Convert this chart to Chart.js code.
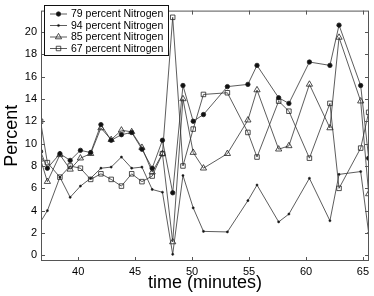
<!DOCTYPE html>
<html>
<head>
<meta charset="utf-8">
<script src="https://cdn.jsdelivr.net/npm/chart.js@4.4.1/dist/chart.umd.min.js"></script>
<style>
  html, body { margin: 0; padding: 0; background: #fff; }
  #wrap { width: 374px; height: 296px; position: relative; }
</style>
</head>
<body>
<div id="wrap"><canvas id="c" width="374" height="296"></canvas></div>
<script>
const times = [36.7, 37.3, 38.4, 39.3, 40.2, 41.1, 42.0, 42.9, 43.8, 44.7, 45.6, 46.5, 47.4, 48.3, 49.2, 50.1, 51.0, 53.1, 54.9, 55.7, 57.6, 58.5, 60.3, 62.1, 62.9, 64.8, 65.5];
const n79 = [9.3, 7.8, 9.1, 8.5, 9.4, 9.2, 11.7, 10.3, 10.8, 11.0, 9.5, 7.8, 10.3, 5.6, 15.2, 12.0, 12.6, 15.1, 15.3, 17.0, 14.1, 13.6, 17.3, 17.0, 20.6, 15.2, 8.7];
const n94 = [3.0, 4.0, 7.0, 5.2, 6.2, 6.9, 7.8, 7.9, 8.8, 7.8, 7.9, 5.9, 5.65, 0.1, 7.15, 4.25, 2.15, 2.1, 4.9, 6.3, 3.0, 3.7, 6.9, 3.1, 7.25, 7.5, 2.0];
const n85 = [8.6, 6.6, 9.0, 7.7, 8.7, 9.1, 11.4, 10.35, 11.2, 11.05, 9.65, 7.45, 9.1, 1.2, 14.0, 9.2, 7.8, 9.1, 12.1, 14.8, 9.5, 9.8, 15.3, 11.4, 19.5, 13.8, 5.5];
const n67 = [12.0, 8.3, 7.0, 8.0, 7.8, 6.8, 7.3, 6.8, 6.2, 7.3, 6.6, 7.1, 9.1, 21.3, 8.0, 11.3, 14.4, 14.55, 11.0, 8.8, 13.8, 12.9, 8.7, 13.6, 6.0, 9.6, 12.8];
const seriesLabels = ['79 percent Nitrogen', '94 percent Nitrogen', '85 percent Nitrogen', '67 percent Nitrogen'];
const xTicks = [40, 45, 50, 55, 60, 65];
const yTicks = [0, 2, 4, 6, 8, 10, 12, 14, 16, 18, 20];

const toXY = arr => arr.map((v, i) => ({x: times[i], y: v}));
const LINE = '#333';
const FONT = '"Liberation Sans", Arial, Helvetica, sans-serif';

const styles = [
  {pointStyle: 'circle', pointRadius: 2.2, pointBackgroundColor: '#111', pointBorderWidth: 0.8},
  {pointStyle: 'circle', pointRadius: 1.1, pointBackgroundColor: '#111', pointBorderWidth: 0.5},
  {pointStyle: 'triangle', pointRadius: 3.6, pointBackgroundColor: 'rgba(255,255,255,0)', pointBorderWidth: 0.8},
  {pointStyle: 'rect', pointRadius: 3.2, pointBackgroundColor: 'rgba(255,255,255,0)', pointBorderWidth: 0.8}
];
const seriesData = [n79, n94, n85, n67];

const datasets = seriesData.map((arr, i) => Object.assign({
  label: seriesLabels[i],
  data: toXY(arr),
  borderColor: LINE,
  borderWidth: 0.8,
  pointBorderColor: '#222',
  fill: false,
  tension: 0
}, styles[i]));

const framePlugin = {
  id: 'frame',
  afterDraw(chart) {
    const {ctx, chartArea: a, scales} = chart;
    ctx.save();
    ctx.strokeStyle = '#555';
    ctx.lineWidth = 1;
    ctx.strokeRect(a.left + 0.5, a.top + 0.5, a.right - a.left - 1, a.bottom - a.top - 1);
    ctx.beginPath();
    const tl = 4;
    xTicks.forEach(v => {
      const x = Math.round(scales.x.getPixelForValue(v)) + 0.5;
      ctx.moveTo(x, a.bottom); ctx.lineTo(x, a.bottom - tl);
      ctx.moveTo(x, a.top); ctx.lineTo(x, a.top + tl);
    });
    yTicks.forEach(v => {
      const y = Math.round(scales.y.getPixelForValue(v)) + 0.5;
      ctx.moveTo(a.left, y); ctx.lineTo(a.left + tl, y);
      ctx.moveTo(a.right, y); ctx.lineTo(a.right - tl, y);
    });
    ctx.stroke();

    // legend box
    const bx = 44.5, by = 5.5, bw = 124, bh = 50;
    ctx.fillStyle = '#fff';
    ctx.fillRect(bx, by, bw, bh);
    ctx.strokeStyle = '#111';
    ctx.lineWidth = 1;
    ctx.strokeRect(bx, by, bw, bh);
    ctx.font = '10.5px ' + FONT;
    ctx.textBaseline = 'middle';
    ctx.textAlign = 'left';
    chart.data.datasets.forEach((ds, i) => {
      const y = 14 + i * 11.5;
      ctx.strokeStyle = LINE;
      ctx.lineWidth = 0.8;
      ctx.beginPath();
      ctx.moveTo(50, y); ctx.lineTo(67, y);
      ctx.stroke();
      ctx.strokeStyle = '#222';
      ctx.fillStyle = ds.pointBackgroundColor;
      ctx.lineWidth = ds.pointBorderWidth;
      Chart.helpers.drawPoint(ctx, {pointStyle: ds.pointStyle, radius: ds.pointRadius, rotation: 0, borderWidth: ds.pointBorderWidth}, 58.5, y);
      ctx.fillStyle = '#000';
      ctx.fillText(ds.label, 71, y + 0.5);
    });
    ctx.restore();
  }
};

new Chart(document.getElementById('c'), {
  type: 'line',
  data: {datasets},
  options: {
    responsive: false,
    animation: false,
    devicePixelRatio: 1,
    layout: {padding: {top: 3, right: 5, left: 0, bottom: 0}},
    plugins: {legend: {display: false}, tooltip: {enabled: false}},
    scales: {
      x: {
        type: 'linear',
        min: 36.74,
        max: 65.53,
        afterBuildTicks: s => { s.ticks = xTicks.map(v => ({value: v})); },
        afterFit: s => { s.height = 35; },
        grid: {display: false, drawTicks: false},
        border: {display: false},
        ticks: {font: {size: 11, family: FONT}, color: '#000', padding: 4, maxRotation: 0, autoSkip: false},
        title: {display: true, text: 'time (minutes)', font: {size: 18, family: FONT}, color: '#000', padding: {top: 0, bottom: 2}}
      },
      y: {
        type: 'linear',
        min: -0.5,
        max: 21.9,
        afterBuildTicks: s => { s.ticks = yTicks.map(v => ({value: v})); },
        afterFit: s => { s.width = 41; },
        grid: {display: false, drawTicks: false},
        border: {display: false},
        ticks: {font: {size: 11, family: FONT}, color: '#000', padding: 4, autoSkip: false},
        title: {display: true, text: 'Percent', font: {size: 18, family: FONT}, color: '#000', padding: {top: 1, bottom: 0}}
      }
    }
  },
  plugins: [framePlugin]
});
</script>
</body>
</html>
